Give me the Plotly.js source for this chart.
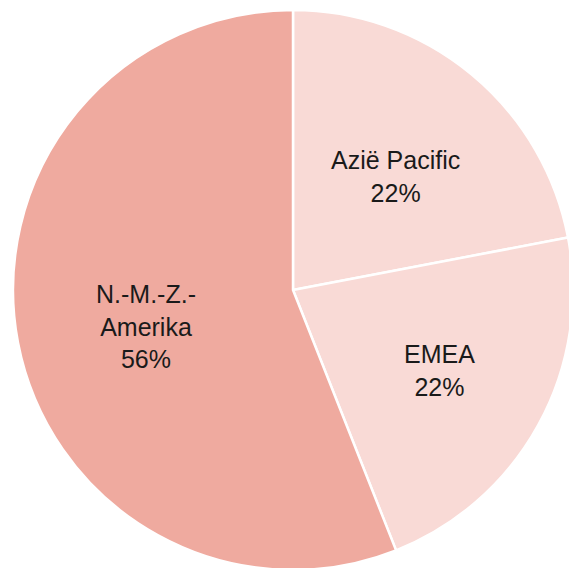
<!DOCTYPE html>
<html>
<head>
<meta charset="utf-8">
<script src="https://cdn.plot.ly/plotly-3.0.1.min.js"></script>
<style>
html,body{margin:0;padding:0;overflow:hidden;background:#fff;width:569px;height:568px;}
#chart{width:586px;height:580px;}
</style>
</head>
<body>
<div id="chart"></div>
<script>
const labels = ["Azië Pacific", "EMEA", "N.-M.-Z.-<br>Amerika"];
const values = [22, 22, 56];
const colors = ["#F9DAD6", "#F9DAD6", "#EFAA9F"];
// label placement: radial fraction of the radius, plus a small pixel nudge
const labelRadius = [0.55, 0.6, 0.53];
const labelNudgeX = [4, -1, -1];
const labelNudgeY = [5, 0, 9];

const W = 586, H = 580;
const cx = 293, cy = 290, R = 280;

const total = values.reduce((a, b) => a + b, 0);
const annotations = [];
let acc = 0;
values.forEach((v, i) => {
  const mid = (acc + v / 2) / total * 2 * Math.PI;
  acc += v;
  const r = labelRadius[i] * R;
  const px = cx + r * Math.sin(mid) + labelNudgeX[i];
  const py = cy - r * Math.cos(mid) + labelNudgeY[i];
  annotations.push({
    xref: "paper", yref: "paper",
    x: px / W, y: 1 - py / H,
    xanchor: "center", yanchor: "middle",
    text: labels[i] + "<br>" + Math.round(v / total * 100) + "%",
    showarrow: false,
    font: {family: "Liberation Sans, Arial, sans-serif", size: 25, color: "#1a1a1a"}
  });
});

const trace = {
  type: "pie",
  labels: labels,
  values: values,
  sort: false,
  direction: "clockwise",
  rotation: 0,
  marker: {colors: colors, line: {color: "#ffffff", width: 2.5}},
  textinfo: "none",
  hoverinfo: "none",
  domain: {x: [(cx - R) / W, (cx + R) / W], y: [1 - (cy + R) / H, 1 - (cy - R) / H]}
};
const layout = {
  width: W, height: H,
  margin: {l: 0, r: 0, t: 0, b: 0},
  showlegend: false,
  paper_bgcolor: "#ffffff",
  annotations: annotations
};
Plotly.newPlot("chart", [trace], layout, {displayModeBar: false, staticPlot: true});
</script>
</body>
</html>
